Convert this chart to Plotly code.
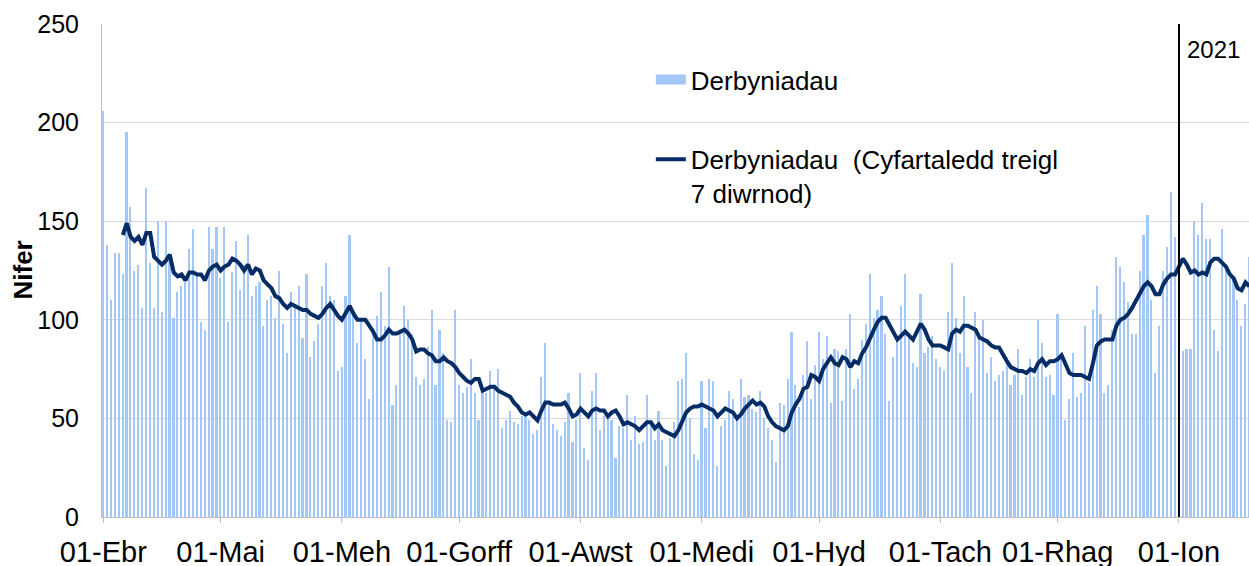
import plotly.graph_objects as go
import pandas as pd

# ---------------- data ----------------
start_date = "2020-04-01"
n_days = 294
dates = pd.date_range(start_date, periods=n_days, freq="D")

admissions = [
    206, 138, 110, 134, 134, 123, 195, 157, 125, 128,
    106, 167, 129, 106, 150, 104, 150, 130, 101, 114,
    117, 119, 136, 146, 122, 99, 95, 147, 136, 147,
    121, 147, 99, 124, 140, 115, 128, 143, 112, 117,
    119, 97, 110, 112, 101, 125, 98, 83, 114, 108,
    117, 91, 123, 81, 89, 98, 117, 129, 112, 110,
    74, 76, 112, 143, 103, 88, 100, 80, 60, 96,
    102, 114, 97, 127, 57, 67, 94, 107, 100, 93,
    71, 67, 70, 86, 105, 67, 95, 83, 49, 48,
    105, 67, 63, 66, 80, 63, 49, 63, 63, 74,
    67, 75, 45, 49, 54, 48, 47, 51, 53, 49,
    42, 44, 71, 88, 59, 47, 44, 41, 48, 63,
    38, 49, 73, 35, 29, 64, 73, 44, 51, 50,
    49, 30, 46, 45, 62, 39, 51, 37, 38, 62,
    48, 39, 54, 39, 26, 40, 48, 69, 70, 83,
    50, 32, 29, 69, 45, 70, 69, 26, 46, 49,
    64, 60, 49, 70, 61, 62, 55, 53, 64, 50,
    45, 39, 28, 58, 57, 70, 94, 67, 56, 72,
    89, 60, 77, 94, 80, 92, 58, 85, 84, 59,
    85, 103, 65, 70, 90, 98, 123, 101, 105, 112,
    93, 59, 81, 90, 107, 123, 93, 78, 76, 113,
    83, 86, 92, 80, 76, 74, 104, 129, 101, 83,
    112, 76, 63, 104, 93, 100, 73, 81, 69, 72,
    74, 81, 67, 72, 85, 62, 71, 80, 71, 100,
    88, 71, 72, 62, 103, 80, 49, 60, 83, 61,
    63, 97, 68, 105, 117, 103, 63, 67, 95, 132,
    127, 119, 109, 93, 93, 125, 143, 153, 110, 73,
    97, 125, 137, 165, 142, 128, 84, 85, 85, 150,
    143, 159, 141, 141, 95, 84, 146, 126, 121, 121,
    110, 97, 108, 132,
]

rolling_avg = [
    None, None, None, None, None, 143, 149, 142, 140, 142,
    138, 144, 144, 132, 130, 128, 130, 133, 124, 122,
    123, 120, 124, 124, 123, 123, 120, 125, 127, 128,
    125, 127, 128, 131, 130, 128, 125, 128, 123, 126,
    125, 120, 118, 116, 112, 111, 108, 106, 108, 107,
    106, 105, 105, 103, 102, 101, 103, 106, 108, 105,
    102, 100, 104, 107, 103, 100, 100, 100, 97, 94,
    90, 90, 92, 95, 93, 93, 94, 95, 93, 90,
    84, 85, 85, 83, 82, 79, 79, 81, 79, 78,
    76, 73, 71, 69, 68, 70, 70, 64, 65, 66,
    66, 64, 63, 62, 61, 58, 56, 53, 52, 53,
    51, 49, 54, 58, 58, 57, 57, 57, 58, 55,
    51, 52, 55, 53, 51, 54, 55, 54, 54, 51,
    53, 54, 51, 47, 48, 47, 46, 44, 46, 48,
    48, 45, 47, 44, 43, 42, 41, 44, 48, 53,
    55, 56, 56, 57, 56, 55, 54, 51, 53, 55,
    54, 53, 50, 52, 55, 57, 59, 57, 58, 56,
    51, 48, 46, 45, 44, 46, 53, 57, 60, 65,
    66, 72, 71, 69, 75, 78, 81, 78, 77, 81,
    80, 76, 79, 78, 83, 86, 91, 95, 99, 101,
    101, 97, 93, 90, 92, 94, 92, 90, 94, 98,
    95, 90, 87, 87, 87, 86, 85, 93, 95, 94,
    97, 97, 96, 95, 91, 90, 89, 87, 86, 86,
    82, 79, 76, 75, 74, 74, 73, 75, 74, 78,
    80, 77, 79, 79, 80, 82, 77, 73, 72, 72,
    72, 71, 70, 78, 87, 89, 90, 90, 90, 97,
    100, 101, 103, 106, 110, 114, 117, 119, 117, 113,
    113, 118, 121, 123, 123, 127, 131, 128, 124, 125,
    123, 124, 123, 129, 131, 131, 129, 127, 123, 121,
    116, 115, 119, 117,
]

tick_dates = ["2020-04-01", "2020-05-01", "2020-06-01", "2020-07-01", "2020-08-01",
              "2020-09-01", "2020-10-01", "2020-11-01", "2020-12-01", "2021-01-01"]
tick_labels = ["01-Ebr", "01-Mai", "01-Meh", "01-Gorff", "01-Awst",
               "01-Medi", "01-Hyd", "01-Tach", "01-Rhag", "01-Ion"]
y_ticks = [0, 50, 100, 150, 200, 250]

bar_name = "Derbyniadau"
line_name = "Derbyniadau  (Cyfartaledd treigl<br>7 diwrnod)"
y_title = "Nifer"
year_marker = "2021-01-01"
year_label = "2021"

# ---------------- styles ----------------
FONT = "Liberation Sans, Arial, sans-serif"
BAR_COLOR = "#A3C8F8"
LINE_COLOR = "#062C66"
DAY_MS = 86400000

fig = go.Figure()
fig.add_trace(go.Bar(
    x=dates, y=admissions, name=bar_name,
    marker=dict(color=BAR_COLOR, line=dict(width=0)),
    width=0.42 * DAY_MS, showlegend=False,
))
# legend swatch for the bars (wide rectangle like the original)
fig.add_trace(go.Scatter(
    x=[None], y=[None], mode="lines", name=bar_name,
    line=dict(color=BAR_COLOR, width=12), legendgroup="bars",
))
fig.add_trace(go.Scatter(
    x=dates, y=rolling_avg, mode="lines", name=line_name,
    line=dict(color=LINE_COLOR, width=4), legendgroup="avg",
    connectgaps=False,
))

x0 = pd.Timestamp(start_date) - pd.Timedelta(days=0.33)
x1 = pd.Timestamp(start_date) + pd.Timedelta(days=292.9)

fig.add_shape(type="line", xref="x", yref="y",
              x0=year_marker, x1=year_marker, y0=0, y1=250,
              line=dict(color="#000000", width=2))
fig.add_annotation(x=year_marker, y=237, xref="x", yref="y", text=year_label,
                   showarrow=False, xanchor="left", xshift=6,
                   font=dict(family=FONT, size=24, color="#000000"))
# y-axis title
fig.add_annotation(x=0, y=0.5, xref="paper", yref="paper",
                   text="<b>" + y_title + "</b>", textangle=-90,
                   showarrow=False, xanchor="center", yanchor="middle", xshift=-80,
                   font=dict(family=FONT, size=26, color="#000000"))

fig.update_layout(
    width=1249, height=566,
    margin=dict(l=102, r=0, t=24, b=49, autoexpand=False),
    paper_bgcolor="white", plot_bgcolor="white",
    font=dict(family=FONT, size=24, color="#000000"),
    bargap=0,
    showlegend=True,
    legend=dict(
        x=0.4785, y=0.935, xanchor="left", yanchor="top",
        bgcolor="rgba(0,0,0,0)", borderwidth=0,
        traceorder="grouped", tracegroupgap=43, valign="top",
        font=dict(family=FONT, size=26, color="#000000"),
    ),
    xaxis=dict(
        type="date", range=[x0, x1],
        tickvals=tick_dates, ticktext=tick_labels,
        tickfont=dict(family=FONT, size=29, color="#000000"),
        showgrid=False, showline=True, linecolor="#BFBFBF", linewidth=1,
        ticks="outside", ticklen=5, tickcolor="#BFBFBF",
        ticklabelstandoff=4, automargin=False,
    ),
    yaxis=dict(
        range=[0, 250], tickvals=y_ticks,
        tickfont=dict(family=FONT, size=25, color="#000000"),
        showgrid=True, gridcolor="#D9D9D9", gridwidth=1,
        showline=True, linecolor="#BFBFBF", linewidth=1,
        zeroline=False, ticks="", ticklabelstandoff=17, automargin=False,
    ),
)

fig.write_html(
    "out.html",
    config={"displayModeBar": False},
    post_script="document.body.style.margin='0px';document.body.style.overflow='hidden';",
)
